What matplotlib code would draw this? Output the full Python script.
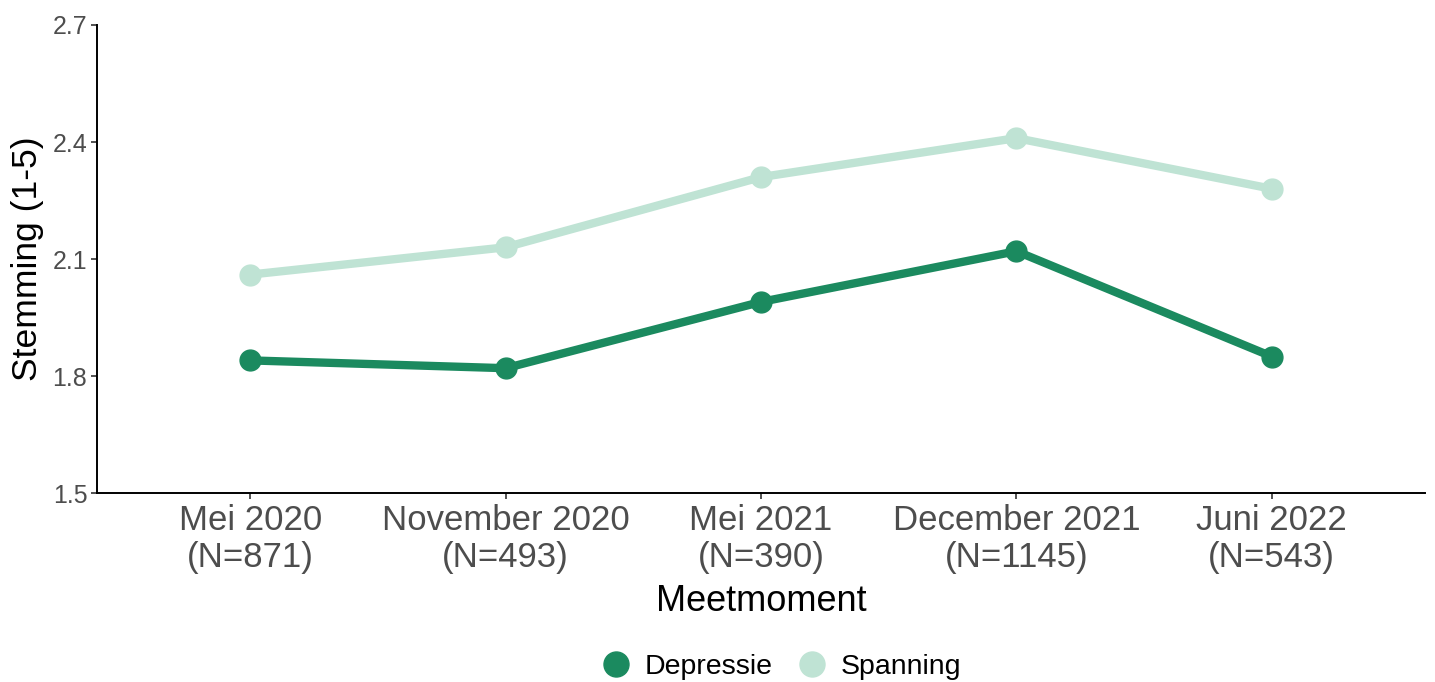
import matplotlib
matplotlib.use("Agg")
import matplotlib.pyplot as plt
from matplotlib.lines import Line2D

plt.rcParams['font.family'] = ['Liberation Sans', 'DejaVu Sans']

moments = ["Mei 2020\n(N=871)", "November 2020\n(N=493)", "Mei 2021\n(N=390)",
           "December 2021\n(N=1145)", "Juni 2022\n(N=543)"]
depressie = [1.84, 1.82, 1.99, 2.12, 1.85]
spanning = [2.06, 2.13, 2.31, 2.41, 2.28]
yticks = [1.5, 1.8, 2.1, 2.4, 2.7]

col_dep = "#1b8a5f"
col_span = "#bfe3d4"

fig = plt.figure(figsize=(14.35, 6.82), dpi=100)
ax = fig.add_axes([97 / 1435, 1 - 493 / 682, (1425 - 97) / 1435, (493 - 25) / 682])

x = list(range(1, len(moments) + 1))
ax.plot(x, spanning, color=col_span, lw=6, marker="o", ms=15, solid_capstyle="butt")
ax.plot(x, depressie, color=col_dep, lw=6, marker="o", ms=15, solid_capstyle="butt")

ax.set_xlim(0.4, 5.6)
ax.set_ylim(1.5, 2.7)
ax.set_yticks(yticks)
ax.set_yticklabels([f"{v:.1f}" for v in yticks])
ax.set_xticks(x)
ax.set_xticklabels(moments, fontsize=25, color="#4d4d4d", linespacing=1.15)
ax.tick_params(axis="y", labelsize=18, labelcolor="#4d4d4d", length=4, color="#333333", width=1.2, pad=3)
ax.tick_params(axis="x", length=4, color="#333333", width=1.2, pad=4)

for s in ["top", "right"]:
    ax.spines[s].set_visible(False)
for s in ["left", "bottom"]:
    ax.spines[s].set_linewidth(1.4)
    ax.spines[s].set_color("black")

ax.set_xlabel("Meetmoment", fontsize=26, labelpad=7)
ax.set_ylabel("Stemming (1-5)", fontsize=25.5, labelpad=6)

handles = [Line2D([], [], color=col_dep, marker="o", ms=18, lw=0),
           Line2D([], [], color=col_span, marker="o", ms=18, lw=0)]
fig.legend(handles, ["Depressie", "Spanning"], loc="center", bbox_to_anchor=(780 / 1435, 1 - 667 / 682),
           ncol=2, frameon=False, fontsize=20.5, handletextpad=0.4, columnspacing=0.8, handlelength=1.2)

fig.savefig("out.png", dpi=100)
